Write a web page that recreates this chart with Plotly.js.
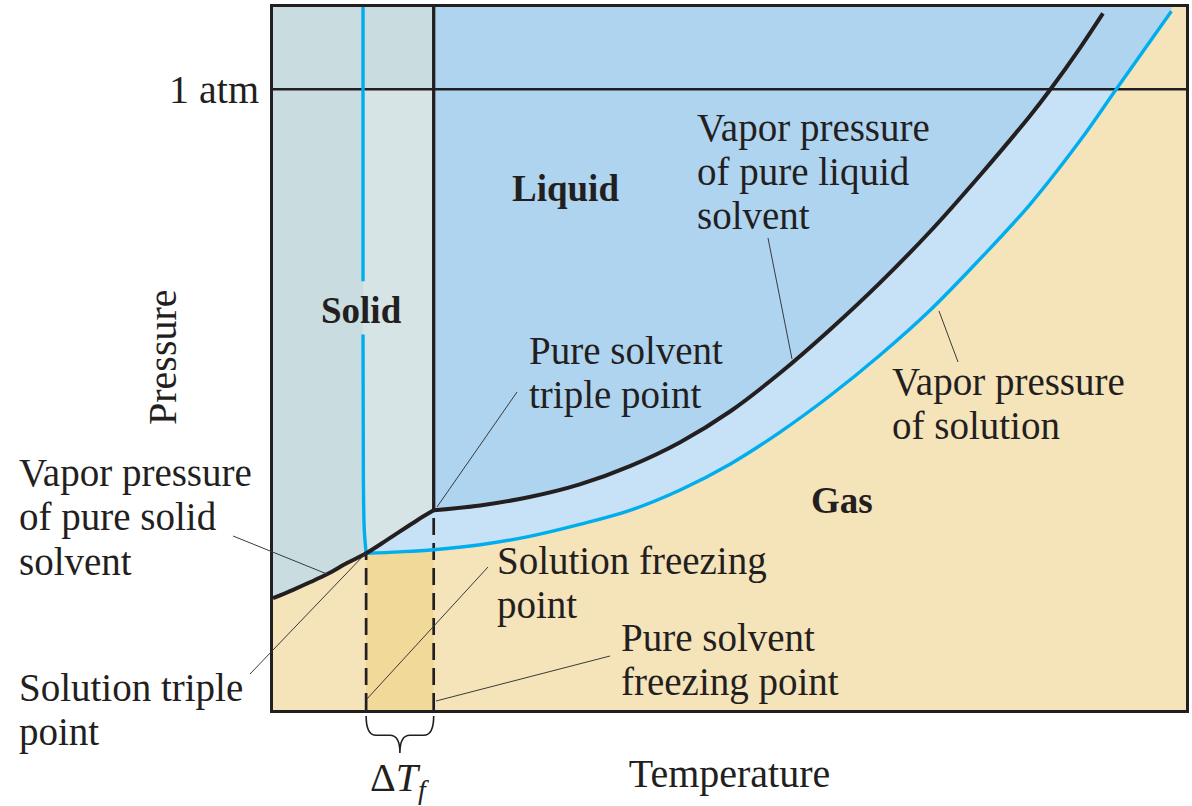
<!DOCTYPE html>
<html>
<head>
<meta charset="utf-8">
<script src="https://cdn.plot.ly/plotly-3.0.1.min.js"></script>
<style>html,body{margin:0;padding:0;background:#ffffff;}</style>
</head>
<body>
<div id="chart" style="width:1192px;height:806px;"></div>
<script>
// ---------------- data (arbitrary temperature / pressure units, 0-100) ----------------
const oneAtm = 88.3;
const pressureTickVals = [88.3];
const pressureTickText = ['1 atm'];

// triple points: [solution, pure solvent]
const tripleT = [10.2, 17.6];
const tripleP = [22.3, 28.4];

// vapor pressure of pure solid solvent (sublimation curve)
const subT = [0, 2.2, 4.1, 5.9, 8.1, 10.2, 12.5, 15.8, 17.6];
const subP = [15.9, 17.1, 18.2, 19.3, 20.9, 22.3, 24.2, 27.0, 28.4];

// vapor pressure of pure liquid solvent
const vapT = [17.6, 22.7, 28.1, 33.6, 39.1, 44.6, 50.1, 55.5, 61.0, 66.5, 72.0, 77.4, 82.9, 85.1, 88.4, 90.9];
const vapP = [28.4, 29.1, 30.3, 32.1, 34.7, 38.1, 42.5, 47.9, 54.1, 60.8, 68.1, 76.0, 84.5, 88.2, 94.2, 99.1];

// vapor pressure of solution
const solVapT = [10.2, 13.9, 17.6, 22.7, 28.1, 33.6, 39.1, 44.6, 50.1, 55.5, 61.0, 66.5, 72.0, 77.4, 82.9, 88.4, 92.3, 98.4];
const solVapP = [22.3, 22.5, 22.8, 23.5, 24.7, 26.4, 28.4, 31.3, 35.0, 39.5, 44.7, 50.5, 56.9, 64.1, 71.9, 81.0, 88.2, 99.4];

// solution freezing (solid-liquid) line, top to bottom
const frzT = [9.86, 9.86, 9.86, 9.9, 10.0, 10.2];
const frzP = [100, 61.0, 53.4, 32.7, 25.6, 22.3];

// pure solvent freezing (solid-liquid) line
const pureFrzT = [17.6, 17.6];
const pureFrzP = [28.4, 100];

// ---------------- styling ----------------
const INK = '#231f20';
const BLUE = '#00aeef';
const FONT = '"Liberation Serif", "Times New Roman", serif';
const C_SOLID = '#c9dce0', C_SOLID_L = '#d6e4e6', C_LIQ = '#afd4f0', C_LIQ_L = '#c7e2f6', C_GAS = '#f5e3ba', C_TAN = '#f1d999';

// ---------------- helpers ----------------
function crossT(T, P, level) {
  for (let i = 0; i < T.length - 1; i++) {
    const a = P[i], b = P[i + 1];
    if ((a - level) * (b - level) <= 0 && a !== b) {
      return T[i] + (level - a) * (T[i + 1] - T[i]) / (b - a);
    }
  }
  return T[T.length - 1];
}
function pts(T, P, keep) {
  const out = [];
  for (let i = 0; i < T.length; i++) if (keep(T[i], P[i])) out.push([T[i], P[i]]);
  return out;
}
function poly(list, color) {
  return {type: 'scatter', mode: 'lines', x: list.map(p => p[0]), y: list.map(p => p[1]),
          fill: 'toself', fillcolor: color, line: {width: 0, color: color}, hoverinfo: 'skip'};
}
function line(x, y, color, width, dash, smooth) {
  return {type: 'scatter', mode: 'lines', x: x, y: y,
          line: {color: color, width: width, dash: dash || 'solid', shape: smooth ? 'spline' : 'linear', smoothing: 1},
          hoverinfo: 'skip', connectgaps: false};
}

const tS = tripleT[0], pS = tripleP[0], tP = tripleT[1], pP = tripleP[1];
const cBlue = crossT(solVapT, solVapP, oneAtm);
const cBlack = crossT(vapT, vapP, oneAtm);
const cFrz = crossT(frzT, frzP, oneAtm);

// 1. liquid region (right of pure freezing line, above solution vapor curve)
const liq = [[tP, 100], [solVapT[solVapT.length - 1], 100]]
  .concat(pts(solVapT, solVapP, (t) => t >= tP).reverse());
// 2. light band between pure and solution curves below 1 atm
const band = pts(solVapT, solVapP, (t, p) => p < oneAtm)
  .concat([[cBlue, oneAtm], [cBlack, oneAtm]])
  .concat(pts(vapT, vapP, (t, p) => p < oneAtm).reverse())
  .concat(pts(subT, subP, (t) => t > tS && t < tP).reverse());
// 3. solid region
const solid = [[0, 100], [tP, 100], [tP, oneAtm], [cFrz, oneAtm]]
  .concat(pts(frzT, frzP, (t, p) => p < oneAtm))
  .concat(pts(subT, subP, (t) => t < tS).reverse());
// 4. light solid band between the two freezing lines, below 1 atm
const solidBand = [[cFrz, oneAtm], [tP, oneAtm], [tP, pP]]
  .concat(pts(subT, subP, (t) => t > tS && t < tP).reverse())
  .concat(pts(frzT, frzP, (t, p) => p < oneAtm).reverse());
// 5. freezing-point depression strip
const tan = [[tS, 0]].concat(pts(solVapT, solVapP, (t) => t >= tS && t <= tP)).concat([[tP, 0]]);

// freezing line with a break behind the "Solid" label
const frzLineX = [], frzLineY = [];
for (let i = 0; i < frzT.length; i++) {
  frzLineX.push(frzT[i]); frzLineY.push(frzP[i]);
  if (frzP[i] === 61.0) { frzLineX.push(null); frzLineY.push(null); }
}

const traces = [
  poly(liq, C_LIQ),
  poly(band, C_LIQ_L),
  poly(solid, C_SOLID),
  poly(solidBand, C_SOLID_L),
  poly(tan, C_TAN),
  line([0, 100], [oneAtm, oneAtm], INK, 2.3),
  line([tS, tS], [0, pS], INK, 2.7, '17px,8px'),
  line([tP, tP], [0, pP], INK, 2.7, '17px,8px'),
  line(pureFrzT, pureFrzP, INK, 3.3),
  line(frzLineX, frzLineY, BLUE, 3.4, null, true),
  line(solVapT, solVapP, BLUE, 3.4, null, true),
  line(subT, subP, INK, 4, null, true),
  line(vapT, vapP, INK, 4, null, true)
];

// ---------------- text ----------------
const X = (px) => (px - 273) / 913;
const Y = (py) => (710 - py) / 703;
function txt(s, px, py, extra) {
  return Object.assign({text: s, xref: 'paper', yref: 'paper', x: X(px), y: Y(py),
    xanchor: 'left', yanchor: 'middle', showarrow: false, borderpad: 0, borderwidth: 0,
    font: {family: FONT, size: 39, color: INK}}, extra || {});
}
const bold = {xanchor: 'center', font: {family: FONT, size: 37, color: INK, weight: 'bold'}};
const annotations = [
  txt('Vapor pressure', 697, 128), txt('of pure liquid', 697, 172), txt('solvent', 697, 216),
  txt('Pure solvent', 529, 350.5), txt('triple point', 529, 394.5),
  txt('Vapor pressure', 892, 381.5), txt('of solution', 892, 425.5),
  txt('Vapor pressure', 19, 473), txt('of pure solid', 19, 517), txt('solvent', 19, 561),
  txt('Solution freezing', 497, 560.5), txt('point', 497, 604.5),
  txt('Pure solvent', 621, 637.5), txt('freezing point', 621, 681.5),
  txt('Solution triple', 19, 687.5), txt('point', 19, 731.5),
  txt('<b>Liquid</b>', 565, 189, bold), txt('<b>Solid</b>', 361, 310, bold), txt('<b>Gas</b>', 842, 501, bold),
  txt('Pressure', 162, 357, {xanchor: 'center', textangle: -90, font: {family: FONT, size: 40, color: INK}}),
  Object.assign(txt('Δ<i>T</i><sub><i>f</i></sub>', 0, 780, {xanchor: 'center', font: {family: FONT, size: 40, color: INK}}),
                {xref: 'x', x: (tS + tP) / 2})
];

function leader(x0, y0, x1, y1) {
  return {type: 'line', xref: 'paper', yref: 'paper', x0: X(x0), y0: Y(y0), x1: X(x1), y1: Y(y1),
          line: {color: '#3a3a3a', width: 1}};
}
const bOff1 = -0.0085, bOff2 = -0.036, bTip = -0.061, mid = (tS + tP) / 2;
const bracePath = `M ${tS},${bOff1} Q ${tS},${bOff2} ${tS + 1.1},${bOff2} L ${mid - 1.1},${bOff2} Q ${mid},${bOff2} ${mid},${bTip} ` +
                  `Q ${mid},${bOff2} ${mid + 1.1},${bOff2} L ${tP - 1.1},${bOff2} Q ${tP},${bOff2} ${tP},${bOff1}`;
const shapes = [
  leader(768, 238, 792, 359),
  leader(517, 392, 437, 507),
  leader(939, 311, 958, 362),
  leader(233, 536, 327, 574),
  leader(250, 674, 366, 553),
  leader(366, 700, 488, 567),
  leader(436, 701, 610, 656),
  {type: 'path', xref: 'x', yref: 'paper', path: bracePath, line: {color: INK, width: 1.6}}
];

const layout = {
  width: 1192, height: 806,
  margin: {l: 273, r: 6, t: 7, b: 96, pad: 0},
  paper_bgcolor: '#ffffff', plot_bgcolor: C_GAS,
  showlegend: false, hovermode: false,
  font: {family: FONT, color: INK, size: 40},
  xaxis: {range: [0, 100], showgrid: false, zeroline: false, showticklabels: false, ticks: '',
          showline: true, mirror: true, linecolor: INK, linewidth: 3, fixedrange: true,
          title: {text: 'Temperature', font: {family: FONT, size: 40, color: INK}, standoff: 47}},
  yaxis: {range: [0, 100], showgrid: false, zeroline: false,
          tickmode: 'array', tickvals: pressureTickVals, ticktext: pressureTickText,
          ticks: 'outside', ticklen: 3, tickcolor: 'rgba(0,0,0,0)',
          tickfont: {family: FONT, size: 40, color: INK},
          showline: true, mirror: true, linecolor: INK, linewidth: 3, fixedrange: true},
  annotations: annotations,
  shapes: shapes
};

Plotly.newPlot('chart', traces, layout, {staticPlot: true, displayModeBar: false});
</script>
</body>
</html>
